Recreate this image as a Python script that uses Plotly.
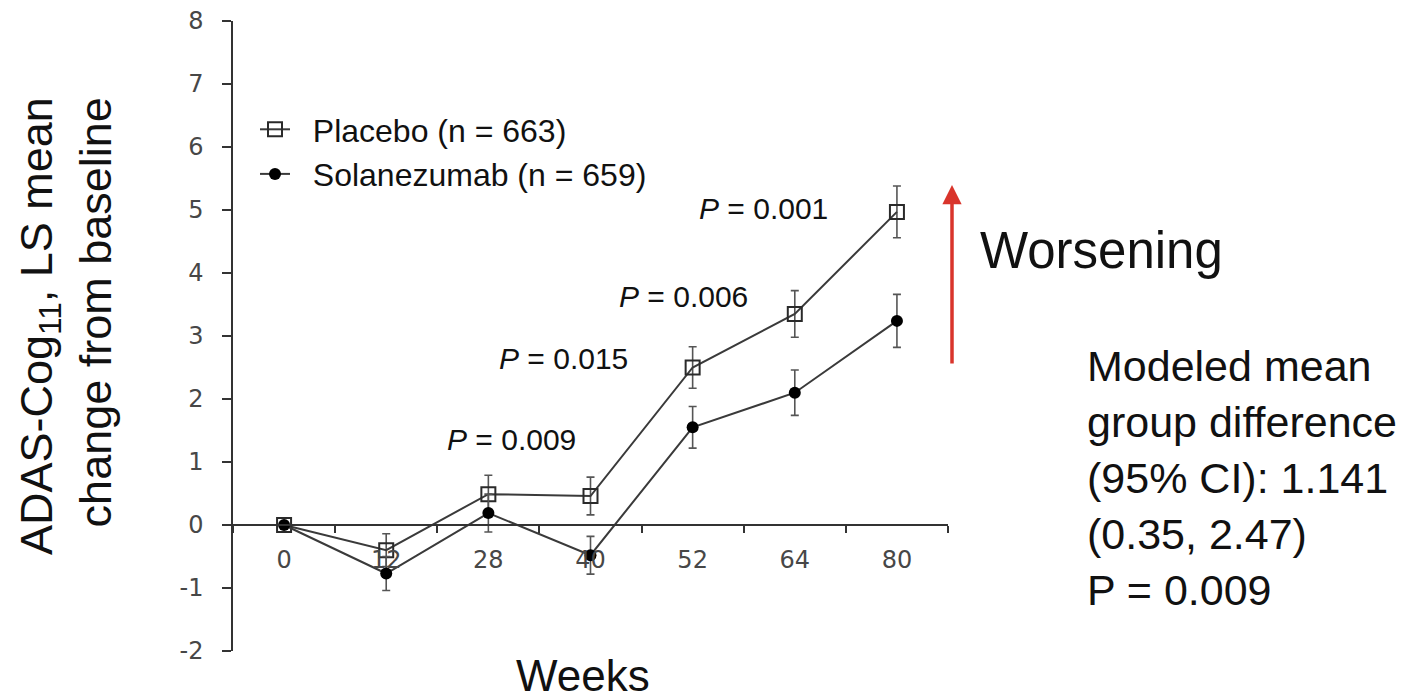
import plotly.graph_objects as go

weeks = ['0', '12', '28', '40', '52', '64', '80']
placebo = [0, -0.40, 0.49, 0.46, 2.50, 3.35, 4.97]
placebo_err = [0, 0.26, 0.30, 0.30, 0.33, 0.37, 0.41]
solan = [0, -0.77, 0.19, -0.48, 1.55, 2.10, 3.24]
solan_err = [0, 0.27, 0.30, 0.30, 0.33, 0.36, 0.42]
y_ticks = [-2, -1, 0, 1, 2, 3, 4, 5, 6, 7, 8]
y_ticktext = ['-2', '-1', '0', '1', '2', '3', '4', '5', '6', '7', '8']

p_labels = ['<i>P</i> = 0.009', '<i>P</i> = 0.015', '<i>P</i> = 0.006', '<i>P</i> = 0.001']
p_x = [2.23, 2.74, 3.91, 4.69]
p_y = [1.35, 2.65, 3.62, 5.03]

# window coordinates (page body has an 8px margin)
W, H = 1416, 699
OFF = 8
PL, PR, PT, PB = 233, 948, 21, 651  # plot area in window pixels
PW, PH = PR - PL, PB - PT


def px(xpix):
    return (xpix - PL) / PW


def py(ypix):
    return (PB - ypix) / PH


LINE = '#3a3a3a'
ERR = '#555555'
NB = '\u00a0'
FONT = 'Liberation Sans, Arial'
TICKFONT = dict(family='DejaVu Sans', size=24, color='#474747')

fig = go.Figure()
fig.add_trace(go.Scatter(
    x=weeks, y=placebo, name=NB * 2 + 'Placebo (n = 663)', mode='lines+markers',
    line=dict(color=LINE, width=2),
    marker=dict(symbol='square-open', size=14, color='#2a2a2a', line=dict(width=2)),
    error_y=dict(type='data', array=placebo_err, visible=True, color=ERR, thickness=1.6, width=4),
))
fig.add_trace(go.Scatter(
    x=weeks, y=solan, name=NB * 2 + 'Solanezumab (n = 659)', mode='lines+markers',
    line=dict(color=LINE, width=2),
    marker=dict(symbol='circle', size=12, color='#000000'),
    error_y=dict(type='data', array=solan_err, visible=True, color=ERR, thickness=1.6, width=4),
))

annotations = []
for t, xx, yy in zip(p_labels, p_x, p_y):
    annotations.append(dict(x=xx, y=yy, xref='x', yref='y', text=t, showarrow=False,
                            font=dict(family=FONT, size=30, color='#111111')))

# Y-axis title
annotations.append(dict(
    x=px(66), y=py(326), xref='paper', yref='paper', xanchor='center', yanchor='middle',
    text='ADAS-Cog<sub>11</sub>, LS mean<br>change from baseline', textangle=-90, align='right',
    showarrow=False, font=dict(family=FONT, size=45, color='#111111')))
# X-axis title
annotations.append(dict(
    x=px(583), y=py(675), xref='paper', yref='paper', xanchor='center', yanchor='middle',
    text='Weeks', showarrow=False, font=dict(family=FONT, size=44, color='#111111')))
# Worsening arrow
annotations.append(dict(
    x=px(952), y=py(185), xref='paper', yref='paper', ax=0, ay=180, axref='pixel', ayref='pixel',
    text='', showarrow=True, arrowhead=2, arrowsize=1.1, arrowwidth=3.5, arrowcolor='#d9342b'))
annotations.append(dict(
    x=px(978), y=py(250), xref='paper', yref='paper', xanchor='left', yanchor='middle',
    text='Worsening', showarrow=False, font=dict(family=FONT, size=51, color='#111111')))
annotations.append(dict(
    x=px(1085), y=py(478), xref='paper', yref='paper', xanchor='left', yanchor='middle', align='left',
    text='Modeled mean<br>group difference<br>(95% CI): 1.141<br>(0.35, 2.47)<br>P = 0.009',
    showarrow=False, font=dict(family=FONT, size=43, color='#111111')))

fig.update_layout(
    width=W, height=H,
    margin=dict(l=PL - OFF, r=W - (PR - OFF), t=PT - OFF, b=H - (PB - OFF), autoexpand=False),
    paper_bgcolor='white', plot_bgcolor='white',
    showlegend=True,
    legend=dict(x=px(255), y=py(102), xanchor='left', yanchor='top', bgcolor='rgba(0,0,0,0)',
                font=dict(family=FONT, size=32, color='#111111'),
                itemwidth=30, tracegroupgap=0),
    xaxis=dict(type='category', range=[-0.5, 6.5], anchor='free', position=0.2,
               showline=True, linecolor='#333333', linewidth=2,
               ticks='outside', tickson='boundaries', ticklen=7, tickcolor='#333333', tickwidth=1.5,
               ticklabelstandoff=13, ticklabeloverflow='allow', showgrid=False, zeroline=False,
               tickfont=TICKFONT),
    yaxis=dict(range=[-2, 8], tickvals=y_ticks, ticktext=y_ticktext, showline=True,
               linecolor='#333333', linewidth=1.5,
               ticks='outside', ticklen=9, tickcolor='#333333', tickwidth=1.5,
               ticklabelstandoff=14, ticklabeloverflow='allow', showgrid=False, zeroline=False,
               tickfont=TICKFONT),
    annotations=annotations,
)

fig.write_html('out.html')
